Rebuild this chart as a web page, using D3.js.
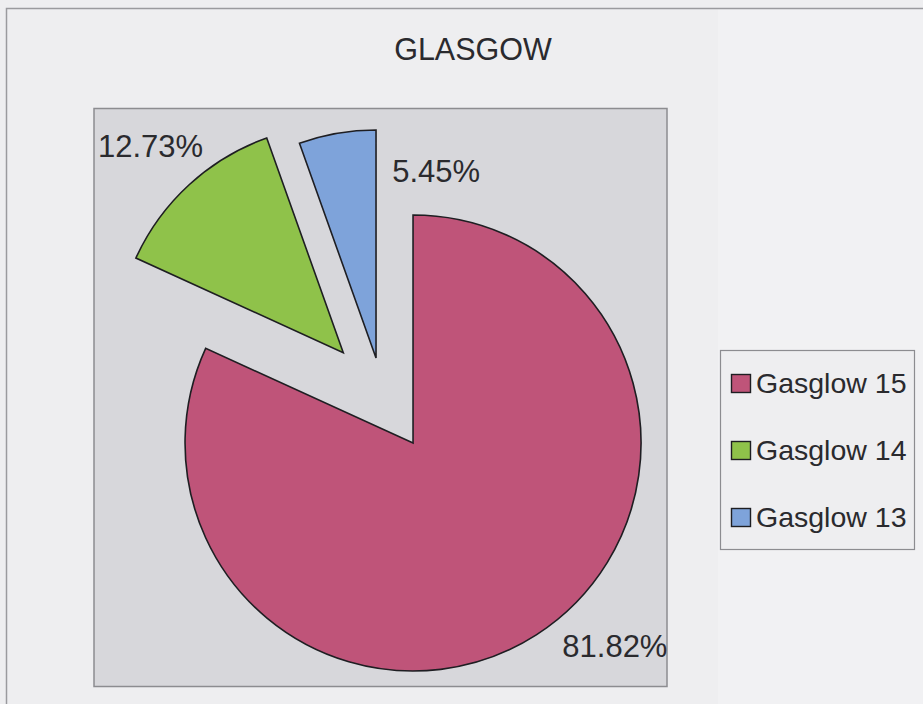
<!DOCTYPE html>
<html>
<head>
<meta charset="utf-8">
<script src="https://cdn.jsdelivr.net/npm/d3@7/dist/d3.min.js"></script>
<style>
  html, body { margin: 0; padding: 0; background: #efeff1; }
  svg { display: block; }
  text { font-family: "Liberation Sans", Arial, sans-serif; fill: #2a2a2e; }
</style>
</head>
<body>
<script>
// ---- data ----
const title = "GLASGOW";
const categories = ["Gasglow 15", "Gasglow 14", "Gasglow 13"];
const values = [81.82, 12.73, 5.45];
const valueLabels = ["81.82%", "12.73%", "5.45%"];
const colors = ["#bf5479", "#8fc24a", "#7ea3da"];

// ---- style / layout constants ----
const W = 923, H = 704;
const explode = [56.5, 58, 38];
const labelOffsets = [[26, 22, "start"], [14, -28, "end"], [55, 49, "start"]];
const cx = 382.5, cy = 395.5, R = 228;

const svg = d3.select("body").append("svg").attr("width", W).attr("height", H);

// background and outer frame
svg.append("rect").attr("x", 0).attr("y", 0).attr("width", W).attr("height", H).attr("fill", "#eeeef0");
svg.append("rect").attr("x", 718).attr("y", 9).attr("width", W - 718).attr("height", H - 9).attr("fill", "#f1f1f3");
svg.append("path").attr("d", `M6.5,${H} L6.5,8.5 L${W},8.5`).attr("fill", "none").attr("stroke", "#9a9a9e").attr("stroke-width", 1.5);

// title
svg.append("text").attr("x", 473).attr("y", 60).attr("text-anchor", "middle")
  .attr("font-size", 30.5).text(title);

// plot area
svg.append("rect").attr("x", 94).attr("y", 108.5).attr("width", 573).attr("height", 578)
  .attr("fill", "#d7d7db").attr("stroke", "#8c8c90").attr("stroke-width", 1.5);

// pie
const pie = d3.pie().sort(null).startAngle(0).endAngle(2 * Math.PI).value(d => d);
const arcs = pie(values);
const arc = d3.arc().innerRadius(0).outerRadius(R);

const g = svg.append("g").attr("transform", `translate(${cx},${cy})`);
arcs.forEach((a, i) => {
  const mid = (a.startAngle + a.endAngle) / 2;
  const dx = Math.sin(mid) * explode[i], dy = -Math.cos(mid) * explode[i];
  g.append("path").attr("d", arc(a))
    .attr("transform", `translate(${dx},${dy})`)
    .attr("fill", colors[i]).attr("stroke", "#1e1e22").attr("stroke-width", 1.6)
    .attr("stroke-linejoin", "miter");
  const px = dx + Math.sin(mid) * R + labelOffsets[i][0];
  const py = dy - Math.cos(mid) * R + labelOffsets[i][1];
  g.append("text").attr("x", px).attr("y", py).attr("text-anchor", labelOffsets[i][2])
    .attr("font-size", 31).text(valueLabels[i]);
});

// legend
const lg = svg.append("g");
lg.append("rect").attr("x", 720.5).attr("y", 350.5).attr("width", 194).attr("height", 199)
  .attr("fill", "#eeeef0").attr("stroke", "#8c8c90").attr("stroke-width", 1.2);
const rowY = d3.scalePoint().domain(categories).range([383, 517]);
categories.forEach((c, i) => {
  const y = rowY(c);
  lg.append("rect").attr("x", 731.5).attr("y", y - 8.5).attr("width", 19).attr("height", 18)
    .attr("fill", colors[i]).attr("stroke", "#1e1e22").attr("stroke-width", 1.4);
  lg.append("text").attr("x", 756).attr("y", y + 10).attr("font-size", 28.5).text(c);
});
</script>
</body>
</html>
